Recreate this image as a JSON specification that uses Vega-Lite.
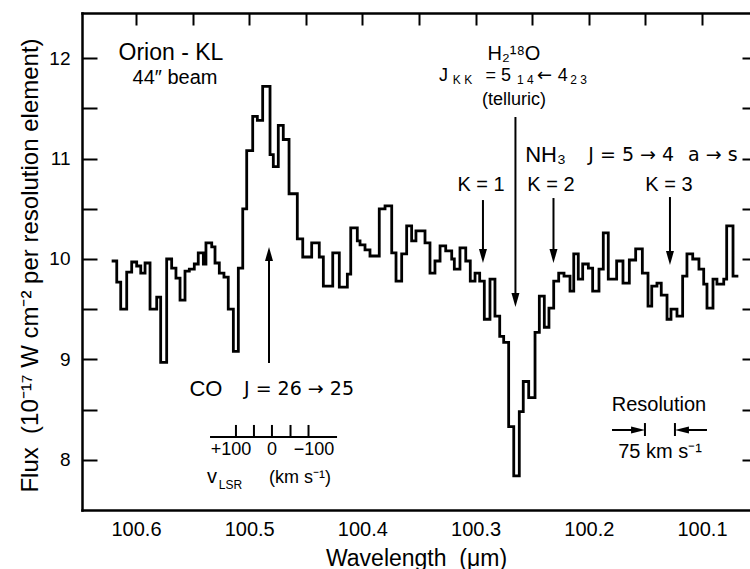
{
  "$schema": "https://vega.github.io/schema/vega-lite/v6.json",
  "width": 668,
  "height": 497,
  "autosize": {"type": "none"},
  "padding": {"left": 82, "top": 13, "right": 0, "bottom": 59},
  "background": "white",
  "config": {
    "view": {"stroke": null},
    "font": "Liberation Sans",
    "axis": {"grid": false, "labelColor": "black", "titleColor": "black", "tickColor": "black", "domainColor": "black", "labelFont": "Liberation Sans", "titleFont": "Liberation Sans", "titleFontWeight": "normal", "domainCap": "square"}
  },
  "resolve": {"axis": {"x": "independent", "y": "independent"}},
  "datasets": {
    "spectrum": [
      {"wavelength": 100.6215, "flux": 9.98}, {"wavelength": 100.6170, "flux": 9.77}, {"wavelength": 100.6135, "flux": 9.50},
      {"wavelength": 100.6082, "flux": 9.87}, {"wavelength": 100.6038, "flux": 9.97}, {"wavelength": 100.5994, "flux": 9.93},
      {"wavelength": 100.5958, "flux": 9.86}, {"wavelength": 100.5920, "flux": 9.96}, {"wavelength": 100.5876, "flux": 9.50},
      {"wavelength": 100.5817, "flux": 9.62}, {"wavelength": 100.5782, "flux": 8.97}, {"wavelength": 100.5729, "flux": 10.00},
      {"wavelength": 100.5685, "flux": 9.91}, {"wavelength": 100.5647, "flux": 9.81}, {"wavelength": 100.5611, "flux": 9.59},
      {"wavelength": 100.5567, "flux": 9.88}, {"wavelength": 100.5529, "flux": 9.90}, {"wavelength": 100.5485, "flux": 9.95},
      {"wavelength": 100.5450, "flux": 10.06}, {"wavelength": 100.5405, "flux": 9.95}, {"wavelength": 100.5382, "flux": 10.16},
      {"wavelength": 100.5331, "flux": 10.12}, {"wavelength": 100.5302, "flux": 9.96}, {"wavelength": 100.5264, "flux": 9.86},
      {"wavelength": 100.5223, "flux": 9.82}, {"wavelength": 100.5185, "flux": 9.50}, {"wavelength": 100.5140, "flux": 9.08},
      {"wavelength": 100.5096, "flux": 9.91}, {"wavelength": 100.5057, "flux": 10.50}, {"wavelength": 100.5022, "flux": 11.08},
      {"wavelength": 100.4969, "flux": 11.42}, {"wavelength": 100.4928, "flux": 11.38}, {"wavelength": 100.4881, "flux": 11.72},
      {"wavelength": 100.4816, "flux": 11.04}, {"wavelength": 100.4787, "flux": 10.92}, {"wavelength": 100.4743, "flux": 11.33},
      {"wavelength": 100.4699, "flux": 11.19}, {"wavelength": 100.4648, "flux": 10.65}, {"wavelength": 100.4575, "flux": 10.20},
      {"wavelength": 100.4527, "flux": 10.02}, {"wavelength": 100.4448, "flux": 10.16}, {"wavelength": 100.4381, "flux": 10.02},
      {"wavelength": 100.4345, "flux": 9.73}, {"wavelength": 100.4262, "flux": 10.06}, {"wavelength": 100.4204, "flux": 9.72},
      {"wavelength": 100.4133, "flux": 9.85}, {"wavelength": 100.4103, "flux": 10.31}, {"wavelength": 100.4045, "flux": 10.18},
      {"wavelength": 100.4021, "flux": 10.14}, {"wavelength": 100.3977, "flux": 10.09}, {"wavelength": 100.3933, "flux": 10.03},
      {"wavelength": 100.3851, "flux": 10.50}, {"wavelength": 100.3800, "flux": 10.53}, {"wavelength": 100.3741, "flux": 10.06},
      {"wavelength": 100.3703, "flux": 9.78}, {"wavelength": 100.3653, "flux": 10.05}, {"wavelength": 100.3609, "flux": 10.33},
      {"wavelength": 100.3565, "flux": 10.18}, {"wavelength": 100.3527, "flux": 10.28}, {"wavelength": 100.3447, "flux": 10.16},
      {"wavelength": 100.3403, "flux": 9.86}, {"wavelength": 100.3359, "flux": 9.98}, {"wavelength": 100.3314, "flux": 10.13},
      {"wavelength": 100.3264, "flux": 10.08}, {"wavelength": 100.3211, "flux": 10.00}, {"wavelength": 100.3188, "flux": 9.90},
      {"wavelength": 100.3138, "flux": 10.11}, {"wavelength": 100.3087, "flux": 9.98}, {"wavelength": 100.3047, "flux": 9.78},
      {"wavelength": 100.3005, "flux": 9.86}, {"wavelength": 100.2964, "flux": 9.78}, {"wavelength": 100.2923, "flux": 9.40},
      {"wavelength": 100.2873, "flux": 9.80}, {"wavelength": 100.2829, "flux": 9.43}, {"wavelength": 100.2787, "flux": 9.23},
      {"wavelength": 100.2752, "flux": 9.17}, {"wavelength": 100.2708, "flux": 8.33}, {"wavelength": 100.2663, "flux": 7.84},
      {"wavelength": 100.2614, "flux": 8.48}, {"wavelength": 100.2579, "flux": 8.78}, {"wavelength": 100.2531, "flux": 8.62},
      {"wavelength": 100.2475, "flux": 9.27}, {"wavelength": 100.2437, "flux": 9.63}, {"wavelength": 100.2393, "flux": 9.32},
      {"wavelength": 100.2352, "flux": 9.51}, {"wavelength": 100.2310, "flux": 9.78}, {"wavelength": 100.2266, "flux": 9.86},
      {"wavelength": 100.2219, "flux": 9.83}, {"wavelength": 100.2166, "flux": 9.68}, {"wavelength": 100.2133, "flux": 10.05},
      {"wavelength": 100.2093, "flux": 9.80}, {"wavelength": 100.2054, "flux": 9.95}, {"wavelength": 100.2004, "flux": 9.91},
      {"wavelength": 100.1966, "flux": 9.68}, {"wavelength": 100.1910, "flux": 9.90}, {"wavelength": 100.1872, "flux": 10.26},
      {"wavelength": 100.1828, "flux": 9.80}, {"wavelength": 100.1754, "flux": 9.98}, {"wavelength": 100.1698, "flux": 9.76},
      {"wavelength": 100.1642, "flux": 9.99}, {"wavelength": 100.1586, "flux": 10.10}, {"wavelength": 100.1527, "flux": 9.86},
      {"wavelength": 100.1477, "flux": 9.53}, {"wavelength": 100.1444, "flux": 9.73}, {"wavelength": 100.1398, "flux": 9.76},
      {"wavelength": 100.1360, "flux": 9.64}, {"wavelength": 100.1309, "flux": 9.40}, {"wavelength": 100.1274, "flux": 9.50},
      {"wavelength": 100.1221, "flux": 9.43}, {"wavelength": 100.1171, "flux": 9.83}, {"wavelength": 100.1133, "flux": 10.05},
      {"wavelength": 100.1082, "flux": 10.00}, {"wavelength": 100.1027, "flux": 9.90}, {"wavelength": 100.0985, "flux": 9.75},
      {"wavelength": 100.0956, "flux": 9.51}, {"wavelength": 100.0903, "flux": 9.80}, {"wavelength": 100.0868, "flux": 9.75},
      {"wavelength": 100.0808, "flux": 9.80}, {"wavelength": 100.0782, "flux": 10.33}, {"wavelength": 100.0726, "flux": 9.83},
      {"wavelength": 100.0679, "flux": 9.83}
    ],
    "vrules": [
      {"x": 100.2648, "y": 11.414, "y2": 9.62},
      {"x": 100.2935, "y": 10.587, "y2": 10.04},
      {"x": 100.2312, "y": 10.607, "y2": 10.04},
      {"x": 100.1283, "y": 10.617, "y2": 10.02},
      {"x": 100.4825, "y": 8.964, "y2": 10.04},
      {"x": 100.5117, "y": 8.227, "y2": 8.347},
      {"x": 100.4958, "y": 8.227, "y2": 8.347},
      {"x": 100.4799, "y": 8.227, "y2": 8.347},
      {"x": 100.4635, "y": 8.227, "y2": 8.347},
      {"x": 100.4476, "y": 8.227, "y2": 8.347},
      {"x": 100.1504, "y": 8.237, "y2": 8.366},
      {"x": 100.1239, "y": 8.237, "y2": 8.366}
    ],
    "hrules": [
      {"x": 100.5346, "x2": 100.4224, "y": 8.227},
      {"x": 100.1795, "x2": 100.1565, "y": 8.297},
      {"x": 100.1177, "x2": 100.0956, "y": 8.297}
    ],
    "heads": [
      {"x": 100.2648, "y": 9.591, "dir": "down"},
      {"x": 100.2935, "y": 10.03, "dir": "down"},
      {"x": 100.2312, "y": 10.03, "dir": "down"},
      {"x": 100.1283, "y": 10.01, "dir": "down"},
      {"x": 100.4825, "y": 10.05, "dir": "up"},
      {"x": 100.1565, "y": 8.297, "dir": "right"},
      {"x": 100.1177, "y": 8.297, "dir": "left"}
    ],
    "t23": [{"x": 100.5691, "y": 12.05, "text": "Orion - KL"}],
    "t22": [
      {"x": 100.5382, "y": 8.71, "text": "CO"},
      {"x": 100.2382, "y": 11.04, "text": "NH₃"}
    ],
    "dv19": [
      {"x": 100.4560, "y": 8.71, "text": "J = 26 → 25"},
      {"x": 100.1625, "y": 11.04, "text": "J = 5 → 4"},
      {"x": 100.0905, "y": 11.04, "text": "a → s"}
    ],
    "dv18": [
      {"x": 100.2390, "y": 11.82, "text": "←"}
    ],
    "t20": [
      {"x": 100.5655, "y": 11.80, "text": "44″ beam"},
      {"x": 100.2661, "y": 12.04, "text": "H₂¹⁸O"},
      {"x": 100.2952, "y": 10.74, "text": "K = 1"},
      {"x": 100.2334, "y": 10.74, "text": "K = 2"},
      {"x": 100.1292, "y": 10.74, "text": "K = 3"},
      {"x": 100.1380, "y": 8.55, "text": "Resolution"},
      {"x": 100.1371, "y": 8.08, "text": "75 km s⁻¹"},
      {"x": 100.5329, "y": 7.83, "text": "v"}
    ],
    "t18": [
      {"x": 100.3284, "y": 11.82, "text": "J"},
      {"x": 100.2800, "y": 11.82, "text": "= 5"},
      {"x": 100.2230, "y": 11.82, "text": "4"},
      {"x": 100.2661, "y": 11.585, "text": "(telluric)"},
      {"x": 100.5161, "y": 8.10, "text": "+100"},
      {"x": 100.4799, "y": 8.10, "text": "0"},
      {"x": 100.4428, "y": 8.10, "text": "−100"},
      {"x": 100.4551, "y": 7.82, "text": "(km s⁻¹)"}
    ],
    "t12": [
      {"x": 100.3116, "y": 11.785, "text": "K  K"},
      {"x": 100.2560, "y": 11.785, "text": "1 4"},
      {"x": 100.2090, "y": 11.785, "text": "2 3"},
      {"x": 100.5165, "y": 7.75, "text": "LSR"}
    ]
  },
  "layer": [
    {
      "data": {"name": "spectrum"},
      "mark": {"type": "line", "interpolate": "step-after", "stroke": "black", "strokeWidth": 2.8, "strokeJoin": "miter"},
      "encoding": {
        "x": {
          "field": "wavelength", "type": "quantitative",
          "scale": {"domain": [100.0576, 100.6477], "reverse": true, "nice": false, "zero": false},
          "axis": {
            "orient": "bottom", "values": [100.1, 100.2, 100.3, 100.4, 100.5, 100.6], "format": ".1f",
            "ticks": false, "labelPadding": 9, "labelFontSize": 20, "labelFlush": false, "labelOverlap": false,
            "domain": true, "domainWidth": 2.5,
            "title": "Wavelength\u00a0\u00a0(μm)", "titleFontSize": 23, "titleBaseline": "middle", "titleX": 334, "titleY": 48, "titleAlign": "center"
          }
        },
        "y": {
          "field": "flux", "type": "quantitative",
          "scale": {"domain": [7.5, 12.45], "nice": false, "zero": false},
          "axis": {
            "orient": "left", "values": [8, 9, 10, 11, 12], "ticks": false, "labelPadding": 12, "labelFontSize": 19,
            "domain": true, "domainWidth": 2.5,
            "title": "Flux\u00a0\u00a0(10⁻¹⁷ W cm⁻² per resolution element)", "titleFontSize": 24, "titleBaseline": "middle",
            "titleAngle": 270, "titleX": -52, "titleY": 252, "titleAlign": "center"
          }
        },
        "order": {"field": "wavelength", "type": "quantitative", "sort": "descending"}
      }
    },
    {
      "data": {"name": "vrules"},
      "mark": {"type": "rule", "stroke": "black", "strokeWidth": 2},
      "encoding": {
        "x": {
          "field": "x", "type": "quantitative",
          "scale": {"domain": [100.0576, 100.6477], "reverse": true, "nice": false, "zero": false},
          "axis": {
            "orient": "top", "values": [100.1, 100.15, 100.2, 100.25, 100.3, 100.35, 100.4, 100.45, 100.5, 100.55, 100.6],
            "labels": false, "ticks": true, "tickSize": -12, "tickWidth": 2, "domain": true, "domainWidth": 2.5, "title": null
          }
        },
        "y": {
          "field": "y", "type": "quantitative",
          "scale": {"domain": [7.5, 12.45], "nice": false, "zero": false},
          "axis": {
            "orient": "right", "values": [8, 8.5, 9, 9.5, 10, 10.5, 11, 11.5, 12],
            "labels": false, "ticks": true, "tickSize": -8, "tickWidth": 2, "domain": false, "title": null
          }
        },
        "y2": {"field": "y2"}
      }
    },
    {
      "data": {"name": "hrules"},
      "mark": {"type": "rule", "stroke": "black", "strokeWidth": 2},
      "encoding": {
        "x": {"field": "x", "type": "quantitative", "scale": {"domain": [100.0576, 100.6477], "reverse": true, "nice": false, "zero": false}, "axis": null},
        "x2": {"field": "x2"},
        "y": {
          "field": "y", "type": "quantitative",
          "scale": {"domain": [7.5, 12.45], "nice": false, "zero": false},
          "axis": {
            "orient": "left", "values": [8, 8.5, 9, 9.5, 10, 10.5, 11, 11.5, 12],
            "labels": false, "ticks": true, "tickSize": -15, "tickWidth": 2, "domain": false, "title": null
          }
        }
      }
    },
    {
      "data": {"name": "heads"},
      "mark": {"type": "point", "filled": true, "fill": "black", "strokeWidth": 0, "size": 196, "opacity": 1},
      "encoding": {
        "x": {"field": "x", "type": "quantitative", "scale": {"domain": [100.0576, 100.6477], "reverse": true, "nice": false, "zero": false}, "axis": null},
        "y": {"field": "y", "type": "quantitative", "scale": {"domain": [7.5, 12.45], "nice": false, "zero": false}, "axis": null},
        "shape": {
          "field": "dir", "type": "nominal", "legend": null,
          "scale": {"domain": ["down", "up", "right", "left"], "range": ["M -0.57 -1 L 0.57 -1 L 0 1 Z", "M -0.57 1 L 0.57 1 L 0 -1 Z", "M -1 -0.5 L 1 0 L -1 0.5 Z", "M 1 -0.5 L -1 0 L 1 0.5 Z"]}
        }
      }
    },
    {
      "data": {"name": "t23"},
      "mark": {"type": "text", "font": "Liberation Sans", "fontSize": 23, "align": "center", "baseline": "middle", "fill": "black"},
      "encoding": {
        "x": {"field": "x", "type": "quantitative", "axis": null},
        "y": {"field": "y", "type": "quantitative", "axis": null},
        "text": {"field": "text"}
      }
    },
    {
      "data": {"name": "t22"},
      "mark": {"type": "text", "font": "Liberation Sans", "fontSize": 22, "align": "center", "baseline": "middle", "fill": "black"},
      "encoding": {
        "x": {"field": "x", "type": "quantitative", "axis": null},
        "y": {"field": "y", "type": "quantitative", "axis": null},
        "text": {"field": "text"}
      }
    },
    {
      "data": {"name": "dv19"},
      "mark": {"type": "text", "font": "DejaVu Sans", "fontSize": 19, "align": "center", "baseline": "middle", "fill": "black"},
      "encoding": {
        "x": {"field": "x", "type": "quantitative", "axis": null},
        "y": {"field": "y", "type": "quantitative", "axis": null},
        "text": {"field": "text"}
      }
    },
    {
      "data": {"name": "dv18"},
      "mark": {"type": "text", "font": "DejaVu Sans", "fontSize": 18, "align": "center", "baseline": "middle", "fill": "black"},
      "encoding": {
        "x": {"field": "x", "type": "quantitative", "axis": null},
        "y": {"field": "y", "type": "quantitative", "axis": null},
        "text": {"field": "text"}
      }
    },
    {
      "data": {"name": "t20"},
      "mark": {"type": "text", "font": "Liberation Sans", "fontSize": 20, "align": "center", "baseline": "middle", "fill": "black"},
      "encoding": {
        "x": {"field": "x", "type": "quantitative", "axis": null},
        "y": {"field": "y", "type": "quantitative", "axis": null},
        "text": {"field": "text"}
      }
    },
    {
      "data": {"name": "t18"},
      "mark": {"type": "text", "font": "Liberation Sans", "fontSize": 18, "align": "center", "baseline": "middle", "fill": "black"},
      "encoding": {
        "x": {"field": "x", "type": "quantitative", "axis": null},
        "y": {"field": "y", "type": "quantitative", "axis": null},
        "text": {"field": "text"}
      }
    },
    {
      "data": {"name": "t12"},
      "mark": {"type": "text", "font": "Liberation Sans", "fontSize": 12, "align": "center", "baseline": "middle", "fill": "black"},
      "encoding": {
        "x": {"field": "x", "type": "quantitative", "axis": null},
        "y": {"field": "y", "type": "quantitative", "axis": null},
        "text": {"field": "text"}
      }
    }
  ]
}
